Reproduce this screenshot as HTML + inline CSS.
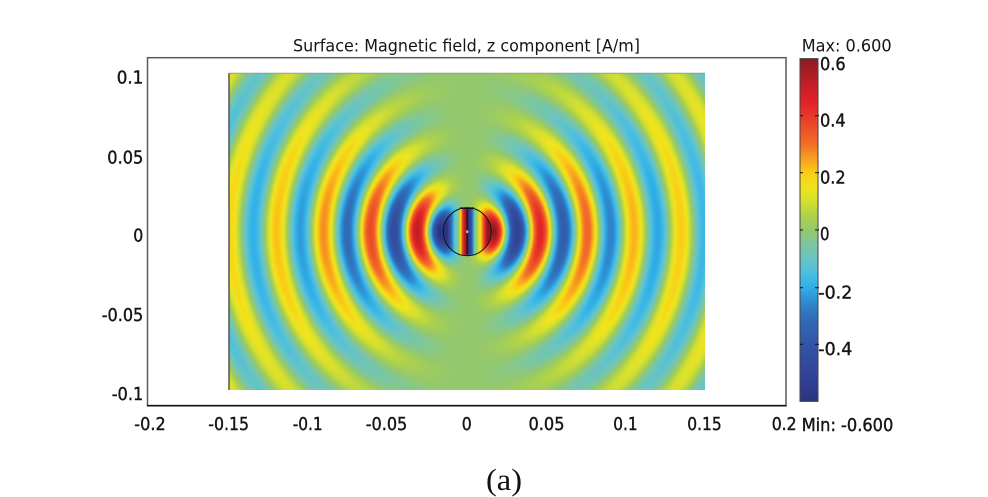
<!DOCTYPE html>
<html>
<head>
<meta charset="utf-8">
<style>
html,body{margin:0;padding:0;background:#fff;}
#wrap{position:relative;width:988px;height:497px;overflow:hidden;background:#fff;}
#f{position:absolute;left:229px;top:73px;width:476px;height:317px;background:#96c86a;}
#ov{position:absolute;left:0;top:0;}
</style>
</head>
<body>
<div id="wrap">
<canvas id="f" width="476" height="317"></canvas>
<svg id="ov" width="988" height="497" viewBox="0 0 988 497" xmlns="http://www.w3.org/2000/svg">
  <defs>
    <linearGradient id="cb" x1="0" y1="0" x2="0" y2="1">
      <stop offset="0" stop-color="rgb(140,26,30)"/>
      <stop offset="0.0833" stop-color="rgb(200,32,40)"/>
      <stop offset="0.125" stop-color="rgb(226,32,40)"/>
      <stop offset="0.1667" stop-color="rgb(232,55,40)"/>
      <stop offset="0.25" stop-color="rgb(242,110,40)"/>
      <stop offset="0.2917" stop-color="rgb(247,160,30)"/>
      <stop offset="0.3333" stop-color="rgb(250,205,22)"/>
      <stop offset="0.375" stop-color="rgb(240,228,28)"/>
      <stop offset="0.4167" stop-color="rgb(212,223,48)"/>
      <stop offset="0.4583" stop-color="rgb(174,210,74)"/>
      <stop offset="0.5" stop-color="rgb(148,200,108)"/>
      <stop offset="0.5417" stop-color="rgb(124,198,160)"/>
      <stop offset="0.5833" stop-color="rgb(106,196,192)"/>
      <stop offset="0.625" stop-color="rgb(76,191,224)"/>
      <stop offset="0.6667" stop-color="rgb(48,176,232)"/>
      <stop offset="0.7083" stop-color="rgb(47,140,208)"/>
      <stop offset="0.75" stop-color="rgb(47,112,187)"/>
      <stop offset="0.8333" stop-color="rgb(50,84,164)"/>
      <stop offset="0.9167" stop-color="rgb(50,68,155)"/>
      <stop offset="1" stop-color="rgb(42,52,128)"/>
    </linearGradient>
  </defs>

  <!-- axes frame -->
  <rect x="147.5" y="57.7" width="638.5" height="348" fill="none" stroke="#5a5a5a" stroke-width="1.5"/>
  <line x1="147" y1="405.7" x2="786.5" y2="405.7" stroke="#111" stroke-width="1.6"/>

  <!-- data region borders -->
  <line x1="229" y1="73" x2="229" y2="390" stroke="#555" stroke-width="1.5"/>
  <line x1="229" y1="73.3" x2="705" y2="73.3" stroke="#9a9a9a" stroke-width="1"/>

  <!-- circle & center features -->
  <circle cx="467.2" cy="231.7" r="24" fill="none" stroke="#111" stroke-width="1"/>
  <line x1="460" y1="208.2" x2="474" y2="208.2" stroke="#111" stroke-width="1.6"/>
  <line x1="467.2" y1="208" x2="467.2" y2="255.5" stroke="#2a0a0a" stroke-width="1.2"/>
  <circle cx="467.2" cy="231.7" r="1.4" fill="#b0b0a0"/>

  <!-- colorbar -->
  <rect x="800" y="58.6" width="18" height="342.8" fill="url(#cb)" stroke="#444" stroke-width="1"/>
  <g stroke="#111" stroke-width="1">
    <line x1="800" y1="115.7" x2="803" y2="115.7"/><line x1="815" y1="115.7" x2="819" y2="115.7"/>
    <line x1="800" y1="172.7" x2="803" y2="172.7"/><line x1="815" y1="172.7" x2="819" y2="172.7"/>
    <line x1="800" y1="230" x2="803" y2="230"/><line x1="815" y1="230" x2="819" y2="230"/>
    <line x1="800" y1="287.7" x2="803" y2="287.7"/><line x1="815" y1="287.7" x2="819" y2="287.7"/>
    <line x1="800" y1="344.3" x2="803" y2="344.3"/><line x1="815" y1="344.3" x2="819" y2="344.3"/>
  </g>

  <g font-family="'DejaVu Sans','Liberation Sans',sans-serif" font-size="16.5" fill="#151515">
    <text x="293" y="51.5" textLength="347" lengthAdjust="spacingAndGlyphs">Surface: Magnetic field, z component [A/m]</text>
    <text x="801.7" y="51.7" textLength="90" lengthAdjust="spacingAndGlyphs">Max: 0.600</text>
  </g>

  <g font-family="'DejaVu Sans','Liberation Sans',sans-serif" font-size="17.5" fill="#151515" stroke="#151515" stroke-width="0.4">
    <text x="801.7" y="431" textLength="91.6" lengthAdjust="spacingAndGlyphs">Min: -0.600</text>

    <!-- y labels -->
    <text x="116.7" y="83.3" textLength="26.6" lengthAdjust="spacingAndGlyphs">0.1</text>
    <text x="107.3" y="163.3" textLength="36" lengthAdjust="spacingAndGlyphs">0.05</text>
    <text x="133.3" y="241.7" textLength="10" lengthAdjust="spacingAndGlyphs">0</text>
    <text x="101.7" y="321" textLength="41.6" lengthAdjust="spacingAndGlyphs">-0.05</text>
    <text x="111.7" y="400" textLength="31.6" lengthAdjust="spacingAndGlyphs">-0.1</text>

    <!-- x labels -->
    <text x="134.3" y="430" textLength="31.4" lengthAdjust="spacingAndGlyphs">-0.2</text>
    <text x="208.3" y="430" textLength="40.7" lengthAdjust="spacingAndGlyphs">-0.15</text>
    <text x="292.7" y="430" textLength="30" lengthAdjust="spacingAndGlyphs">-0.1</text>
    <text x="365.7" y="430" textLength="41.6" lengthAdjust="spacingAndGlyphs">-0.05</text>
    <text x="461.7" y="430" textLength="10" lengthAdjust="spacingAndGlyphs">0</text>
    <text x="528.5" y="430" textLength="36" lengthAdjust="spacingAndGlyphs">0.05</text>
    <text x="613.3" y="430" textLength="24.4" lengthAdjust="spacingAndGlyphs">0.1</text>
    <text x="687.3" y="430" textLength="34.4" lengthAdjust="spacingAndGlyphs">0.15</text>
    <text x="771.7" y="430" textLength="25" lengthAdjust="spacingAndGlyphs">0.2</text>

    <!-- colorbar labels -->
    <text x="820" y="70" textLength="25.7" lengthAdjust="spacingAndGlyphs">0.6</text>
    <text x="820" y="126.7" textLength="25.7" lengthAdjust="spacingAndGlyphs">0.4</text>
    <text x="820" y="183.3" textLength="25.7" lengthAdjust="spacingAndGlyphs">0.2</text>
    <text x="820" y="240" textLength="9.5" lengthAdjust="spacingAndGlyphs">0</text>
    <text x="818.3" y="298.3" textLength="34" lengthAdjust="spacingAndGlyphs">-0.2</text>
    <text x="818.3" y="355" textLength="34" lengthAdjust="spacingAndGlyphs">-0.4</text>
  </g>

  <text x="486" y="490" font-family="'Liberation Serif','DejaVu Serif',serif" font-size="31" fill="#111" textLength="36" lengthAdjust="spacingAndGlyphs">(a)</text>
</svg>
</div>
<script>
(function(){
  var c=document.getElementById('f');
  var ctx=c.getContext('2d');
  var W=476,H=317;
  var img=ctx.createImageData(W,H);
  var d=img.data;
  var cx=238.2, cy=158.7;
  var S=[
    [-0.6,42,52,128],[-0.5,50,68,155],[-0.4,50,84,164],[-0.3,47,112,187],
    [-0.25,47,140,208],[-0.2,48,176,232],[-0.15,76,191,224],[-0.1,106,196,192],
    [-0.05,124,198,160],[0,148,200,108],[0.05,174,210,74],[0.1,212,223,48],
    [0.15,240,228,28],[0.2,250,205,22],[0.25,247,160,30],[0.3,242,110,40],
    [0.4,232,55,40],[0.45,226,32,40],[0.5,200,32,40],[0.6,140,26,30]
  ];
  var AT=[[0,0.6],[27,0.6],[50,0.52],[74,0.45],[97,0.37],[120,0.32],[144,0.27],[168,0.23],[192,0.215],[215,0.2],[240,0.18],[320,0.15]];
  function amp(r){
    if(r<=AT[0][0]) return AT[0][1];
    for(var i=0;i<AT.length-1;i++){
      if(r<=AT[i+1][0]){
        var t=(r-AT[i][0])/(AT[i+1][0]-AT[i][0]);
        return AT[i][1]+(AT[i+1][1]-AT[i][1])*t;
      }
    }
    return AT[AT.length-1][1];
  }
  function col(v,o){
    if(v<=S[0][0]){o[0]=S[0][1];o[1]=S[0][2];o[2]=S[0][3];return;}
    var n=S.length-1;
    if(v>=S[n][0]){o[0]=S[n][1];o[1]=S[n][2];o[2]=S[n][3];return;}
    for(var i=0;i<n;i++){
      if(v<=S[i+1][0]){
        var t=(v-S[i][0])/(S[i+1][0]-S[i][0]);
        o[0]=S[i][1]+(S[i+1][1]-S[i][1])*t;
        o[1]=S[i][2]+(S[i+1][2]-S[i][2])*t;
        o[2]=S[i][3]+(S[i+1][3]-S[i][3])*t;
        return;
      }
    }
  }
  var o=[0,0,0];
  var TP=2*Math.PI, L=46.8, R0=27;
  for(var y=0;y<H;y++){
    for(var x=0;x<W;x++){
      var dx=x+0.5-cx, dy=y+0.5-cy;
      var r=Math.sqrt(dx*dx+dy*dy);
      var v;
      if(r<23.8){
        var ax=Math.abs(dx), p;
        if(ax<8){ p=-0.6*Math.cos(Math.PI*ax/16); }
        else { var q=Math.min(1,(ax-8)/12); p=0.6*Math.pow(q,1.5); }
        v=(dx<0?-1:1)*p;
      } else {
        var cp=dx/r;
        var cf=(cp<0?-1:1)*cp*cp;
        v=amp(r)*cf*Math.cos(TP*(r-R0)/L);
      }
      col(v,o);
      var k=(y*W+x)*4;
      d[k]=o[0];d[k+1]=o[1];d[k+2]=o[2];d[k+3]=255;
    }
  }
  ctx.putImageData(img,0,0);
})();
</script>
</body>
</html>
